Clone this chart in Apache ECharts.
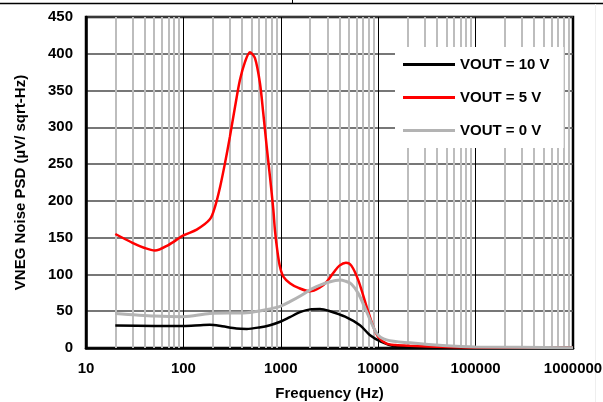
<!DOCTYPE html>
<html>
<head>
<meta charset="utf-8">
<script src="https://cdn.jsdelivr.net/npm/echarts@6/dist/echarts.min.js"></script>
<style>
html,body{margin:0;padding:0;background:#fff;}
#chart{width:603px;height:402px;}
</style>
</head>
<body>
<div id="chart"></div>
<script>
// ---- data ----
const seriesNames = ['VOUT = 10 V', 'VOUT = 5 V', 'VOUT = 0 V'];

const vout10 = [
  [20, 30.5], [50, 30], [100, 30], [150, 31], [187, 31.5], [250, 29.5], [350, 26.5], [447, 26],
  [600, 28], [774, 31], [1000, 36], [1240, 42], [1600, 49], [1995, 52.5], [2524, 53], [3200, 50],
  [4570, 42.6], [6500, 31], [8190, 17.7], [10650, 8.6], [14300, 2.7], [20000, 1.5], [50000, 0.8],
  [100000, 0.5], [1000000, 0.3]
];

const vout5 = [
  [20, 155], [30, 143], [40, 136], [51, 132.5], [70, 140], [100, 153], [137, 161], [187, 175],
  [211, 192], [238, 219], [267, 251], [300, 287], [339, 328], [380, 364], [429, 389], [483, 402],
  [543, 394], [611, 360], [661, 319], [716, 274], [774, 233], [838, 188], [871, 160], [920, 133],
  [982, 110], [1062, 97], [1240, 88], [1500, 82], [1995, 77], [2500, 82], [2958, 90], [3500, 103],
  [4000, 112], [4667, 116], [5300, 112], [6252, 92], [7620, 56], [8910, 29], [10000, 15],
  [12190, 6], [15000, 4], [21200, 3], [50000, 1.5], [100000, 0.8], [1000000, 0.3]
];

const vout0 = [
  [20, 47], [51, 43.5], [100, 42.6], [187, 47], [447, 48], [700, 52], [1000, 57], [1240, 63],
  [1600, 71], [1995, 79], [2500, 85], [3000, 89], [4054, 92.4], [4570, 91], [5300, 87],
  [6252, 74], [7620, 49], [9660, 20], [12190, 11], [21200, 7], [50000, 3], [100000, 1.5],
  [1000000, 0.5]
];

const xTickLabels = ['10', '100', '1000', '10000', '100000', '1000000'];
const yTickLabels = ['0', '50', '100', '150', '200', '250', '300', '350', '400', '450'];

// minor log gridline positions (2..9 within each decade)
const minorFreqs = [];
[10, 100, 1000, 10000, 100000].forEach(function (d) {
  for (let k = 2; k <= 9; k++) minorFreqs.push(k * d);
});

const FONT = 'Arial, "Liberation Sans", sans-serif';

const chart = echarts.init(document.getElementById('chart'), null, {renderer: 'canvas'});

chart.setOption({
  animation: false,
  backgroundColor: '#fff',
  textStyle: {fontFamily: FONT},
  graphic: [
    {type: 'line', shape: {x1: 0, y1: 3.5, x2: 603, y2: 3.5}, style: {stroke: '#000', lineWidth: 1.5}, silent: true},
    {type: 'line', shape: {x1: 292.5, y1: 0, x2: 292.5, y2: 3.5}, style: {stroke: '#000', lineWidth: 1}, silent: true},
    {type: 'line', shape: {x1: 595.5, y1: 4, x2: 595.5, y2: 402}, style: {stroke: '#eeeeee', lineWidth: 1}, silent: true}
  ],
  grid: {
    left: 86, right: 30, top: 17, bottom: 54,
    outerBoundsMode: 'none',
    containLabel: false,
    show: true, borderColor: '#000', borderWidth: 2.5, backgroundColor: '#fff'
  },
  legend: {
    show: true,
    z: 20,
    orient: 'vertical',
    left: 395, top: 47,
    padding: [10, 14, 10, 8],
    backgroundColor: '#fff',
    itemGap: 18,
    itemWidth: 52, itemHeight: 3,
    icon: 'rect',
    data: seriesNames,
    textStyle: {fontFamily: FONT, fontSize: 15, fontWeight: 'bold', color: '#000'}
  },
  xAxis: {
    type: 'log',
    logBase: 10,
    min: 10, max: 1000000,
    name: 'Frequency (Hz)',
    nameLocation: 'middle',
    nameGap: 38,
    nameTextStyle: {fontFamily: FONT, fontSize: 15, fontWeight: 'bold', color: '#000'},
    axisLine: {show: true, lineStyle: {color: '#000', width: 2.5}},
    axisTick: {show: false},
    axisLabel: {
      margin: 13,
      fontFamily: FONT, fontSize: 15, fontWeight: 'bold', color: '#000',
      formatter: function (v) {
        const i = Math.round(Math.log10(v)) - 1;
        return xTickLabels[i] !== undefined ? xTickLabels[i] : '';
      }
    },
    splitLine: {show: true, lineStyle: {color: '#000', width: 1}}
  },
  yAxis: {
    type: 'value',
    min: 0, max: 450, interval: 50,
    name: 'VNEG Noise PSD (µV/ sqrt-Hz)',
    nameLocation: 'middle',
    nameGap: 58,
    nameTextStyle: {fontFamily: FONT, fontSize: 15, fontWeight: 'bold', color: '#000'},
    axisLine: {show: true, lineStyle: {color: '#000', width: 2.5}},
    axisTick: {show: false},
    axisLabel: {
      margin: 13,
      fontFamily: FONT, fontSize: 15, fontWeight: 'bold', color: '#000',
      formatter: function (v) {
        const i = Math.round(v / 50);
        return yTickLabels[i] !== undefined ? yTickLabels[i] : '';
      }
    },
    splitLine: {show: true, lineStyle: {color: '#4a4a4a', width: 1.5}}
  },
  series: [
    {
      name: '__minor',
      type: 'line',
      data: [],
      z: 1,
      silent: true,
      markLine: {
        z: 1,
        silent: true,
        symbol: ['none', 'none'],
        label: {show: false},
        animation: false,
        lineStyle: {color: '#bdbdbd', width: 2, type: 'solid'},
        data: minorFreqs.map(function (f) { return {xAxis: f}; })
      }
    },
    {
      name: seriesNames[0], type: 'line', data: vout10, showSymbol: false, symbol: 'none',
      smooth: 0.3, z: 3, color: '#000', lineStyle: {color: '#000', width: 2.5}
    },
    {
      name: seriesNames[1], type: 'line', data: vout5, showSymbol: false, symbol: 'none',
      smooth: 0.3, z: 4, color: '#ff0000', lineStyle: {color: '#ff0000', width: 2.5}
    },
    {
      name: seriesNames[2], type: 'line', data: vout0, showSymbol: false, symbol: 'none',
      smooth: 0.3, z: 5, color: '#b3b3b3', lineStyle: {color: '#b3b3b3', width: 3}
    }
  ]
});
</script>
</body>
</html>
